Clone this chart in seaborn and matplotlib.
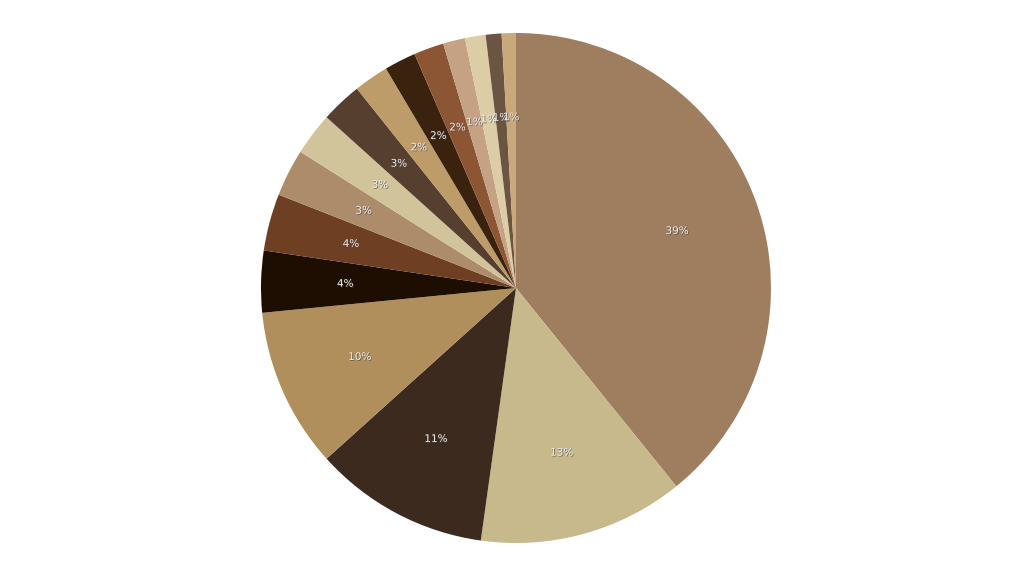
import matplotlib
matplotlib.use('Agg')
import matplotlib.pyplot as plt
import matplotlib.patheffects as pe
import seaborn as sns

# slice shares (percent), clockwise from 12 o'clock
shares = [39.1, 13.0, 11.1, 10.1, 3.9, 3.6, 3.0, 2.7, 2.6, 2.2, 2.0, 1.9, 1.4, 1.3, 1.0, 0.9]
colors = ['#9e7e5f', '#c7b98b', '#3d2a1e', '#b08f5c', '#1e0e02', '#6e3f22',
          '#ad8c6c', '#d2c49a', '#563f2e', '#bd9c6a', '#3b220f', '#8c5634',
          '#c4a283', '#dccda6', '#6b5441', '#c9a87a']

sns.set_theme(style="white")

fig = plt.figure(figsize=(10.24, 5.76), dpi=100)
ax = fig.add_axes([0, 0, 1, 1])

wedges, texts, autotexts = ax.pie(
    shares, colors=colors, startangle=90, counterclock=False,
    autopct='%1.0f%%', pctdistance=0.67,
    wedgeprops=dict(linewidth=0),
    textprops=dict(color='#eeeeee', fontsize=7.5),
)
for t in autotexts:
    t.set_path_effects([pe.withSimplePatchShadow(offset=(0.6, -0.6), shadow_rgbFace='#444444', alpha=0.7)])

ax.set_aspect('equal')
half_h = 576 / 2 / 255
half_w = 1024 / 2 / 255
cx = (516 - 512) / 255
ax.set_xlim(-half_w - cx, half_w - cx)
ax.set_ylim(-half_h, half_h)
ax.axis('off')

fig.savefig('out.png', dpi=100, facecolor='white')
